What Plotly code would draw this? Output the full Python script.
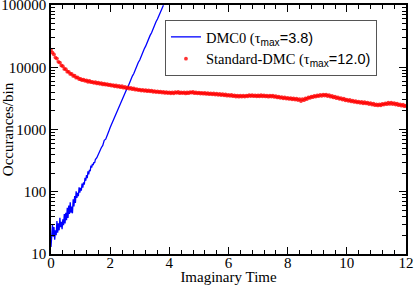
import numpy as np
import plotly.graph_objects as go

# ---- data ----
blue_x = list(np.round(np.arange(0, 1.5001, 0.025), 3)) + list(np.round(np.arange(1.55, 3.8001, 0.05), 3))
blue_y = [13, 24, 30, 19, 27, 17, 24, 20, 34, 22,
          31, 24, 38, 27, 33, 25, 36, 29, 44, 31,
          46, 35, 55, 38, 60, 44, 68, 46, 58, 45,
          76, 58, 85, 66, 102, 80, 96, 85, 118, 97,
          115, 104, 135, 116, 142, 130, 168, 150, 185, 165,
          212, 190, 225, 215, 262, 245, 280, 268, 300, 290,
          330,
          352, 405, 440, 510, 555, 670, 700, 840, 925, 1080,
          1230, 1350, 1600, 1740, 2050, 2240, 2650, 2890, 3400, 3720,
          4350, 4800, 5600, 6150, 7200, 7950, 9250, 10200, 11900, 13100,
          15300, 16900, 19700, 21800, 25300, 28000, 32500, 35900, 41800, 46300,
          53800, 59600, 69000, 76900, 88500, 99000]

red_x = list(np.round(np.arange(0, 12.0001, 0.05), 2))
red_y = [19000, 17200, 16100, 14300, 13800, 12200, 11900, 10700, 10400, 9400, 9300, 8500, 8450, 7800, 7800, 7250, 7300, 6800, 6900, 6450, 6480,
         6200, 6330, 6050, 6120, 5850, 6020, 5760, 5840, 5620, 5780, 5500, 5650, 5420, 5560, 5300, 5450, 5250, 5350, 5150, 5260,
         5060, 5180, 4950, 5100, 4880, 5000, 4790, 4950, 4700, 4820, 4620, 4740, 4530, 4680, 4450, 4570, 4370, 4460, 4300, 4380,
         4220, 4340, 4180, 4290, 4120, 4250, 4100, 4200, 4040, 4150, 3990, 4110, 3950, 4060, 3920, 4030, 3870, 3980, 3850, 3950,
         3820, 3960, 3810, 3990, 3880, 4000, 3840, 3940, 3850, 3950, 3800, 3930, 3840, 3990, 3900, 4010, 3840, 3940, 3810, 3920,
         3790, 3890, 3760, 3870, 3730, 3840, 3700, 3810, 3670, 3790, 3640, 3760, 3610, 3720, 3570, 3700, 3540, 3650, 3500, 3610,
         3470, 3590, 3430, 3540, 3390, 3510, 3370, 3490, 3380, 3490, 3380, 3510, 3420, 3560, 3450, 3560, 3430, 3540, 3420, 3520,
         3420, 3550, 3420, 3540, 3400, 3500, 3370, 3500, 3390, 3490, 3340, 3430, 3280, 3370, 3230, 3320, 3170, 3270, 3140, 3210,
         3100, 3200, 3060, 3150, 3020, 3120, 2980, 3080, 2860, 3070, 2960, 3150, 3090, 3270, 3220, 3380, 3310, 3470, 3380, 3520,
         3440, 3610, 3480, 3640, 3520, 3620, 3450, 3570, 3370, 3450, 3280, 3380, 3190, 3290, 3110, 3180, 3030, 3130, 2950, 3020,
         2890, 2980, 2820, 2920, 2770, 2850, 2720, 2810, 2680, 2770, 2640, 2740, 2620, 2700, 2570, 2660, 2510, 2600, 2460, 2540,
         2440, 2530, 2450, 2580, 2510, 2630, 2550, 2690, 2580, 2700, 2570, 2660, 2520, 2600, 2460, 2540, 2410, 2500, 2370, 2420]

y_tickvals = [10, 100, 1000, 10000, 100000]
y_ticktext = ["10", "100", "1000", "10000", "100000"]
x_tickvals = [0, 2, 4, 6, 8, 10, 12]
x_ticktext = ["0", "2", "4", "6", "8", "10", "12"]
y_minor = [m * d for d in [10, 100, 1000, 10000] for m in range(2, 10)]

SANS = "Liberation Sans"
name_blue = f"DMC0 (τ<sub><span style='font-family:{SANS}'>max</span></sub><span style='font-family:{SANS}'>=3.8)</span>"
name_red = f"Standard-DMC (τ<sub><span style='font-family:{SANS}'>max</span></sub><span style='font-family:{SANS}'>=12.0)</span>"

fig = go.Figure()
fig.add_trace(go.Scatter(x=blue_x, y=blue_y, mode="lines", name=name_blue,
                         line=dict(color="#0000ff", width=1.3)))
fig.add_trace(go.Scatter(x=red_x, y=red_y, mode="markers", name=name_red,
                         marker=dict(color="#ff0000", size=3.8, opacity=0.8, line=dict(width=0))))

axis_font = dict(family="Liberation Serif", size=15, color="black")
fig.update_layout(
    width=415, height=285,
    margin=dict(l=51, r=9, t=5, b=31),
    paper_bgcolor="white", plot_bgcolor="white",
    font=dict(family="Liberation Serif", size=15, color="black"),
    showlegend=True,
    legend=dict(x=0.321, y=0.94, xanchor="left", yanchor="top",
                bgcolor="white", bordercolor="#555555", borderwidth=1,
                font=dict(family="Liberation Serif", size=14.5, color="black"),
                tracegroupgap=0, itemwidth=30),
    xaxis=dict(range=[0, 12], tickvals=x_tickvals, ticktext=x_ticktext, automargin=False,
               ticks="inside", ticklen=7, tickwidth=1, tickcolor="black", ticklabeloverflow="allow",
               showline=True, linecolor="black", linewidth=1.5, mirror="ticks",
               showgrid=False, zeroline=False, tickfont=axis_font,
               title=dict(text="Imaginary Time", font=dict(family="Liberation Serif", size=15), standoff=2),
               minor=dict(dtick=0.4, ticks="inside", ticklen=4, tickcolor="black", showgrid=False)),
    yaxis=dict(type="log", range=[1, 5], tickvals=y_tickvals, ticktext=y_ticktext, automargin=False,
               ticks="inside", ticklen=7, tickwidth=1, tickcolor="black", ticklabeloverflow="allow",
               showline=True, linecolor="black", linewidth=1.5, mirror="ticks",
               showgrid=False, zeroline=False, tickfont=axis_font,
               title=dict(text="Occurances/bin", font=dict(family="Liberation Serif", size=15), standoff=0),
               minor=dict(tickmode="array", tickvals=y_minor, ticks="inside", ticklen=4, tickcolor="black", showgrid=False)),
)
try:
    fig.update_xaxes(ticklabelstandoff=-6)
except Exception:
    pass

fig.write_html("out.html", config={"displayModeBar": False},
               post_script="document.body.style.margin='0';")
